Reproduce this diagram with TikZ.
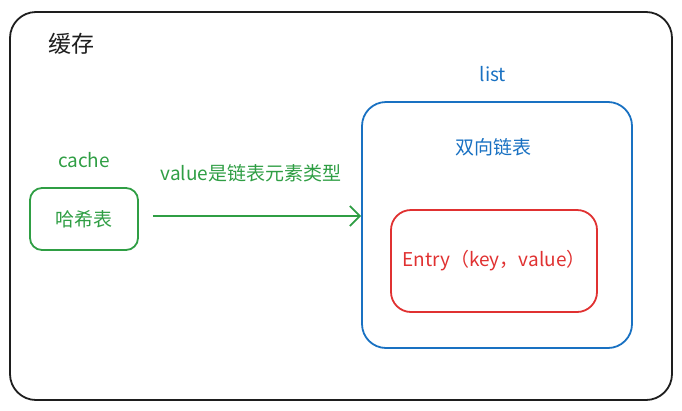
\documentclass[tikz,border=0pt]{standalone}
\usepackage{fontspec}
\setmainfont{Noto Sans CJK SC}
\usepackage{tikz}
\usetikzlibrary{arrows.meta}
\usetikzlibrary{calc}

\definecolor{exgreen}{HTML}{2F9E44}
\definecolor{exblue}{HTML}{1971C2}
\definecolor{exred}{HTML}{E03131}
\definecolor{exblack}{HTML}{1E1E1E}

\begin{document}
\begin{tikzpicture}[
        x=1pt, y=-1pt, % coordenadas en pixeles
        font=\fontsize{19}{21}\selectfont, % fuente de las etiquetas
        frame/.style={draw, line width=1.8pt, rounded corners=#1, inner sep=0pt}, % estilo de las cajas
        frame/.default=20pt,
        link/.style={-{Straight Barb[length=10pt, width=20pt, line width=1.8pt]}, line width=1.8pt}, % estilo de la flecha
    ]
        \useasboundingbox (0,0) rectangle (682,410);

        % --- Caja exterior ---
        \node[frame=26pt, exblack, minimum width=662pt, minimum height=388pt] (outer) at (341,206) {};
        \node[exblack, font=\fontsize{23}{25}\selectfont] (outerlbl) at (71,44) {缓存};

        % --- Tabla hash ---
        \node[frame=12pt, exgreen, minimum width=108pt, minimum height=62pt, text=exgreen] (hash) at (84,219) {哈希表};
        \node[exgreen] (cachelbl) at (84,160) {cache};

        % --- Lista doblemente enlazada ---
        \node[frame=24pt, exblue, minimum width=270pt, minimum height=246pt] (list) at (497,225) {};
        \node[exblue] (listlbl) at (493,74) {list};
        \node[exblue] (listname) at (493,147) {双向链表};

        % --- Entrada ---
        \node[frame=20pt, exred, minimum width=206pt, minimum height=102pt, text=exred] (entry) at (494,261) {Entry（key，value）};

        % --- Flecha ---
        \draw[link, exgreen] (hash.east) ++(14pt,3pt) coordinate (start) -- (start -| list.west) node[midway, above=30pt, xshift=-6pt] (linklbl) {value是链表元素类型};

    \end{tikzpicture}
\end{document}
